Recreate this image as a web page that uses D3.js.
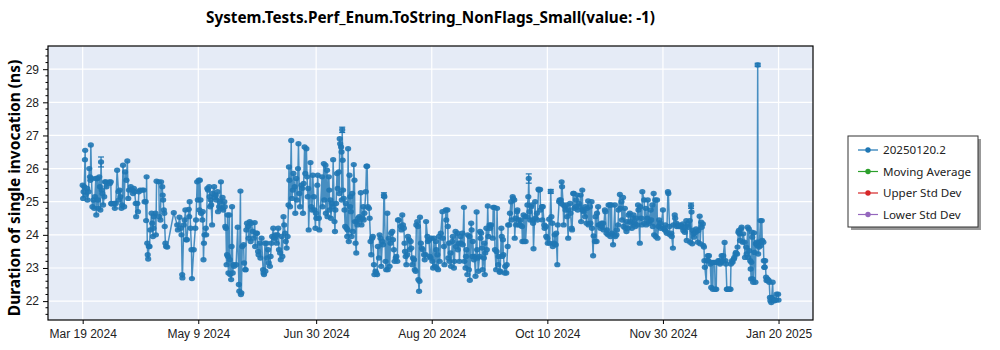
<!DOCTYPE html>
<html>
<head>
<meta charset="utf-8">
<script src="https://cdn.jsdelivr.net/npm/d3@7"></script>
<style>
  body { margin: 0; background: #fff; }
  svg { display: block; font-family: "Noto Sans", "Open Sans", sans-serif; }
</style>
</head>
<body>
<svg id="chart"></svg>
<script>
// benchmark runs: [days since 2024-03-19, duration ns]
const points = [
  [0.0,25.5],[0.2,25.1],[0.4,25.3],[0.7,25.45],[1.0,26.27],[1.1,26.55],[1.3,25.2],[2.0,25.4],[2.1,25.05],[2.6,25.3],
  [2.9,26.0],[3.2,25.75],[3.4,25.65],[3.6,26.71],[3.9,25.7],[4.3,24.85],[4.7,25.05],[5.1,24.8],[5.4,25.15],[5.8,25.7],
  [6.0,24.6],[6.5,25.7],[6.7,25.05],[6.9,24.8],[7.3,25.75],[7.6,25.45],[7.8,24.75],[8.1,26.2],[8.4,25.35],[8.7,25.25],
  [9.0,24.9],[9.5,25.15],[9.8,25.6],[10.2,25.6],[10.5,25.45],[11.7,25.6],[12.0,25.55],[12.4,25.6],[12.6,24.95],[12.8,24.93],
  [13.9,24.95],[14.2,24.8],[14.6,24.95],[15.2,25.95],[15.8,25.3],[16.0,25.05],[16.3,25.35],[16.6,25.15],[17.1,24.8],[17.4,24.9],
  [17.8,26.1],[18.3,24.85],[18.7,25.9],[19.3,25.65],[19.7,26.23],[20.1,25.1],[20.4,25.35],[21.2,25.45],[21.9,25.35],[22.2,25.25],
  [22.6,25.4],[22.9,25.3],[23.4,24.95],[23.6,24.55],[24.1,24.95],[24.4,24.7],[24.8,25.3],[25.3,25.35],[26.3,25.35],[27.0,25.35],
  [27.3,25.0],[27.8,25.0],[28.0,24.43],[28.2,25.75],[28.5,23.75],[28.7,23.4],[28.9,23.27],[29.2,23.65],[29.5,23.65],[29.8,24.15],
  [30.4,24.65],[30.7,24.35],[31.0,23.95],[31.2,24.2],[31.4,24.55],[32.1,24.65],[32.3,24.0],[32.6,25.62],[33.6,25.6],[33.8,24.55],
  [34.3,24.45],[34.6,25.6],[35.1,25.45],[35.3,25.2],[35.5,25.05],[35.8,24.75],[36.0,24.65],[36.2,24.25],[36.5,23.75],[36.8,23.65],
  [37.3,23.63],[40.2,24.67],[41.7,24.3],[42.0,24.15],[42.7,24.53],[43.3,24.2],[43.6,24.0],[43.9,22.8],[44.0,22.7],[44.6,24.3],
  [45.0,24.45],[45.3,24.75],[45.6,23.85],[46.0,23.85],[46.8,24.77],[47.0,24.55],[47.2,25.0],[47.6,24.2],[48.0,23.55],[48.2,22.68],
  [49.0,23.55],[49.7,24.2],[50.0,24.45],[50.5,25.6],[50.8,25.05],[51.2,25.65],[51.5,24.75],[51.7,25.65],[52.0,25.05],[52.2,24.65],
  [52.8,24.45],[53.0,24.7],[53.3,23.25],[53.5,23.75],[53.7,24.0],[54.3,24.2],[54.5,24.0],[55.0,25.4],[55.3,25.35],[55.8,25.45],
  [56.0,25.15],[56.2,24.85],[56.5,25.05],[56.7,24.9],[57.1,24.3],[57.3,25.25],[58.0,25.45],[58.2,25.13],[58.7,25.2],[59.0,25.05],
  [59.5,25.3],[59.7,24.7],[60.2,24.85],[60.5,25.0],[61.0,25.6],[61.2,24.8],[61.7,25.13],[62.0,24.75],[62.5,25.0],[62.7,24.85],
  [62.9,24.25],[63.2,24.2],[63.5,23.1],[63.7,23.4],[63.9,24.6],[64.1,23.35],[64.3,22.85],[64.7,24.6],[64.9,23.25],[65.1,22.8],
  [65.5,22.65],[65.7,23.65],[65.9,24.85],[66.2,22.85],[66.5,23.1],[66.8,23.05],[67.7,23.1],[68.4,24.23],[68.9,22.5],[69.1,22.3],
  [69.6,25.32],[69.8,22.2],[70.0,22.25],[70.4,23.65],[71.0,23.7],[71.2,23.15],[71.7,22.95],[71.9,22.95],[72.2,24.15],[72.5,24.35],
  [72.9,24.25],[73.2,23.9],[73.7,24.4],[74.1,23.8],[74.4,24.35],[75.1,24.1],[75.4,23.9],[75.9,24.37],[76.1,23.65],[76.6,24.05],
  [76.9,24.05],[77.4,23.5],[77.6,23.4],[78.1,23.75],[78.4,23.3],[78.9,23.9],[79.6,22.95],[79.8,22.85],[80.0,22.8],[80.4,23.75],
  [80.6,22.9],[81.1,23.75],[81.4,23.3],[81.8,23.55],[82.1,23.15],[82.6,23.05],[82.9,23.35],[83.3,23.75],[83.6,23.95],[84.1,24.2],
  [84.4,23.9],[84.8,23.9],[85.1,24.0],[85.6,23.75],[85.9,24.0],[86.3,24.2],[86.6,23.55],[87.1,23.45],[87.4,23.25],[87.8,23.95],
  [88.1,23.35],[88.6,24.55],[88.9,24.3],[89.3,24.05],[89.6,23.8],[90.0,23.6],[90.4,23.95],[90.8,24.9],[91.0,26.05],[91.2,25.65],
  [91.5,24.85],[92.0,26.85],[92.3,25.1],[92.7,25.35],[93.0,25.85],[93.5,25.45],[93.8,24.65],[94.2,25.7],[94.5,25.05],[95.0,26.0],
  [95.2,26.75],[95.6,25.25],[95.9,24.85],[96.5,25.5],[96.8,25.4],[97.2,24.65],[97.5,25.55],[97.9,26.65],[98.2,25.85],[98.7,26.6],
  [99.0,25.75],[99.3,25.15],[99.5,25.4],[99.7,24.15],[100.5,26.18],[100.8,24.85],[101.2,24.75],[101.5,25.8],[102.0,25.15],[102.3,24.75],
  [102.7,24.2],[102.9,24.65],[103.1,24.5],[103.5,25.5],[103.7,25.8],[104.2,24.5],[104.4,24.15],[105.6,25.75],[105.8,24.85],[106.4,26.15],
  [106.6,25.05],[107.1,26.1],[107.3,24.65],[107.8,25.95],[108.0,24.55],[108.6,25.75],[108.8,25.35],[109.0,24.75],[109.3,25.05],[109.5,24.5],
  [110.0,24.95],[110.2,24.85],[110.5,26.27],[111.1,24.4],[111.3,24.1],[111.5,24.75],[111.8,24.95],[112.2,25.85],[112.5,25.4],[113.0,25.9],
  [113.2,25.25],[113.4,26.9],[113.6,26.75],[114.0,26.65],[114.2,26.5],[114.3,25.05],[114.5,27.17],[114.7,26.25],[114.9,25.35],[115.2,25.1],
  [115.5,24.75],[115.8,24.25],[116.1,24.95],[116.4,24.2],[116.7,23.95],[116.9,24.15],[117.1,26.6],[117.4,23.8],[117.7,25.8],[118.0,24.85],
  [118.1,25.15],[118.3,24.7],[118.6,23.95],[118.9,25.25],[119.2,24.1],[119.6,26.12],[119.9,25.65],[120.1,24.4],[120.4,23.75],[120.7,23.45],
  [120.9,24.4],[121.2,24.3],[121.5,24.5],[122.0,24.55],[122.3,24.45],[122.7,25.27],[123.0,24.3],[123.5,24.5],[123.8,24.85],[124.0,24.45],
  [124.3,24.65],[124.9,25.3],[125.2,26.07],[125.5,26.07],[125.8,24.85],[126.3,24.8],[126.6,24.5],[127.0,23.8],[127.3,23.4],[127.7,23.9],
  [128.0,23.95],[128.5,23.1],[128.7,22.8],[129.2,22.9],[129.5,22.85],[129.9,22.8],[130.2,23.65],[130.7,23.3],[131.0,24.0],[131.4,23.9],
  [131.7,23.05],[132.2,23.8],[132.5,23.7],[132.9,25.2],[133.1,25.15],[133.6,23.2],[133.9,22.95],[134.4,24.65],[134.6,22.95],[135.1,23.9],
  [135.4,23.05],[135.8,23.75],[136.1,24.05],[136.6,24.1],[136.9,23.85],[137.3,23.55],[137.6,23.2],[138.1,23.3],[138.4,23.35],[138.8,23.2],
  [139.1,24.45],[139.5,24.45],[140.3,24.25],[140.6,24.15],[141.0,24.6],[141.3,24.3],[141.7,24.2],[142.0,23.75],[142.2,23.5],[142.5,23.35],
  [142.8,23.1],[143.2,23.4],[143.5,23.95],[144.0,23.85],[144.3,23.55],[144.7,23.8],[145.0,23.6],[145.4,23.1],[145.7,23.3],[146.2,23.25],
  [146.5,22.95],[146.9,22.9],[147.2,24.3],[147.6,24.4],[147.9,24.25],[148.1,22.65],[148.4,22.3],[148.6,22.6],[148.8,24.53],[149.2,23.75],
  [149.6,23.6],[150.0,23.55],[150.6,23.4],[150.9,23.25],[151.3,23.4],[151.5,24.4],[152.1,23.95],[152.3,23.8],[152.8,23.85],[153.1,23.35],
  [153.5,23.3],[153.8,23.9],[154.3,23.2],[154.6,23.0],[155.0,23.9],[155.3,23.05],[155.8,23.8],[156.0,23.55],[156.2,23.0],[156.5,23.4],
  [156.8,22.95],[157.2,23.95],[157.5,23.2],[158.0,24.05],[158.7,24.7],[158.9,23.9],[159.4,23.65],[159.6,23.1],[160.2,24.75],[160.4,24.45],
  [160.9,24.75],[161.1,24.25],[161.3,23.3],[161.6,23.75],[161.8,23.2],[162.3,23.45],[162.5,23.05],[163.1,23.8],[163.3,23.95],[163.8,23.0],
  [164.0,23.2],[164.5,24.1],[164.7,23.65],[165.3,24.05],[165.5,23.55],[166.0,23.75],[166.2,23.2],[166.7,23.95],[166.9,23.75],[167.5,24.05],
  [167.7,23.7],[168.2,24.83],[168.4,23.2],[168.9,23.0],[169.1,23.35],[169.3,23.55],[169.7,22.8],[169.9,24.0],[170.4,22.95],[170.6,23.95],
  [170.8,22.63],[171.4,24.35],[171.6,24.15],[171.9,23.35],[172.1,23.8],[172.6,23.25],[172.8,23.35],[173.3,22.75],[173.8,24.69],[174.0,23.55],
  [174.3,23.3],[174.5,22.9],[175.1,23.35],[175.3,24.1],[175.5,23.9],[175.8,24.05],[176.2,23.6],[176.4,22.95],[177.0,23.3],[177.2,23.75],
  [177.4,22.8],[177.6,23.45],[178.1,24.2],[178.3,23.55],[178.7,24.87],[179.0,23.95],[179.5,24.3],[179.7,24.2],[180.2,24.3],[180.9,23.9],
  [181.1,24.83],[181.6,24.83],[181.9,23.55],[182.4,22.95],[182.6,23.5],[182.8,24.8],[183.3,23.1],[183.5,23.35],[184.0,22.87],[184.2,22.9],
  [184.7,24.2],[184.9,23.95],[185.1,23.35],[185.4,23.85],[185.6,23.4],[186.2,22.85],[186.4,23.05],[186.9,22.85],[187.1,23.1],[187.5,23.65],
  [187.7,24.3],[188.2,24.3],[188.5,24.65],[189.0,25.0],[189.2,24.45],[189.7,25.15],[189.9,25.1],[190.4,25.05],[190.6,23.9],[191.0,24.5],
  [191.2,24.3],[191.6,24.7],[191.8,24.75],[192.3,24.45],[192.5,24.3],[193.0,24.3],[193.2,24.45],[193.8,24.25],[194.0,23.8],[194.5,24.6],
  [194.7,23.8],[195.2,24.55],[195.4,23.8],[196.0,24.55],[196.2,24.9],[196.6,25.15],[196.8,25.7],[197.1,24.7],[197.4,24.45],[197.9,24.85],
  [198.1,24.9],[198.5,24.45],[198.7,24.35],[198.9,23.58],[199.6,25.0],[199.8,24.5],[200.4,24.65],[200.6,24.45],[201.1,25.38],[201.3,25.35],
  [201.8,25.37],[202.0,24.75],[202.6,24.85],[202.8,24.45],[203.0,24.85],[203.6,24.3],[203.8,24.2],[204.3,24.25],[204.5,23.95],[205.0,23.9],
  [205.2,23.75],[205.8,24.47],[206.0,23.75],[206.5,25.31],[206.8,24.55],[207.2,24.35],[207.4,23.65],[208.0,23.75],[208.2,24.0],[208.7,23.7],
  [208.9,24.05],[209.4,23.1],[209.6,24.3],[210.2,25.0],[210.4,25.05],[210.9,25.05],[211.1,24.95],[211.3,25.6],[211.5,25.45],[212.0,24.9],
  [212.2,24.3],[212.8,24.85],[213.0,24.75],[213.5,24.9],[213.7,24.55],[214.2,23.9],[214.4,24.75],[215.0,24.95],[215.2,24.65],[215.7,24.2],
  [215.9,24.15],[216.4,25.25],[216.7,25.25],[216.9,24.8],[217.5,24.85],[217.7,25.05],[218.2,25.2],[218.4,24.75],[218.9,24.95],[219.1,24.85],
  [219.7,25.2],[219.9,24.4],[220.4,25.35],[220.6,24.75],[220.8,24.75],[221.0,24.7],[221.6,24.55],[221.8,24.85],[222.3,24.35],[222.5,24.8],
  [223.0,25.02],[223.2,24.3],[223.8,24.85],[224.0,24.35],[224.5,25.0],[224.7,24.2],[225.2,23.37],[225.4,23.97],[226.0,23.8],[226.2,24.55],
  [226.7,23.8],[226.9,24.65],[227.4,24.85],[227.6,24.3],[228.2,24.3],[228.4,24.2],[228.9,24.35],[229.1,24.25],[229.6,24.35],[229.8,24.15],
  [230.4,24.75],[230.6,24.7],[231.1,24.05],[231.3,24.15],[231.8,24.0],[232.0,24.9],[232.6,24.9],[232.8,23.95],[233.3,24.9],[233.5,24.05],
  [234.0,23.7],[234.2,24.0],[234.8,24.9],[235.0,23.95],[235.5,24.0],[235.7,24.15],[236.2,24.3],[236.4,24.75],[237.0,25.22],[237.2,24.8],
  [237.7,25.0],[237.9,24.45],[238.4,25.13],[238.6,24.25],[239.2,24.8],[239.4,24.2],[239.9,24.1],[240.1,24.4],[240.6,24.2],[240.8,24.6],
  [241.4,24.65],[241.6,24.4],[242.1,24.35],[242.3,24.2],[242.8,24.5],[243.0,24.6],[243.6,24.35],[243.8,24.25],[244.3,24.5],[244.5,24.3],
  [245.0,24.9],[245.2,24.75],[245.8,23.75],[246.0,24.85],[246.5,24.5],[246.7,24.3],[246.9,25.3],[247.7,25.05],[247.9,24.35],[248.4,24.8],
  [248.6,24.3],[249.1,24.5],[249.3,25.05],[249.9,24.35],[250.1,24.4],[250.6,24.75],[250.8,24.45],[251.3,24.9],[251.5,24.25],[251.9,25.25],
  [252.1,24.0],[252.6,25.05],[252.8,23.95],[253.4,25.05],[253.6,23.9],[254.1,24.25],[254.3,24.45],[254.8,24.35],[255.0,24.2],[256.0,24.75],
  [256.2,24.2],[256.8,24.15],[257.0,24.3],[257.5,24.1],[257.7,24.05],[258.2,25.3],[258.4,25.25],[258.9,24.25],[259.1,24.0],[259.7,24.05],
  [259.9,23.95],[260.4,23.6],[260.6,24.3],[261.2,24.6],[261.4,24.5],[261.9,24.35],[262.1,24.25],[262.9,24.25],[263.1,24.3],[264.1,24.28],
  [264.3,24.23],[264.8,24.33],[265.0,24.13],[265.6,24.08],[265.8,24.23],[266.3,24.43],[266.5,23.83],[267.0,24.33],[267.2,24.23],[267.8,24.43],
  [268.0,23.78],[268.4,24.88],[268.6,24.69],[268.9,23.73],[269.1,24.13],[269.5,24.03],[269.7,23.93],[270.4,24.08],[270.6,24.18],[271.4,23.78],
  [271.6,24.13],[272.2,24.56],[272.4,23.73],[272.9,24.38],[273.1,24.23],[273.6,24.33],[273.8,23.68],[274.1,23.63],[274.3,23.22],[274.5,23.02],
  [275.1,22.57],[275.3,23.22],[275.8,23.37],[276.0,23.22],[276.3,23.37],[276.9,23.12],[277.3,22.41],[277.5,23.17],[278.0,22.36],[278.2,23.17],
  [278.8,23.17],[279.0,22.36],[279.5,22.36],[279.7,23.17],[280.2,23.17],[280.4,23.22],[281.0,23.22],[281.2,23.12],[281.7,23.17],[281.9,23.37],
  [282.4,23.22],[282.6,23.37],[283.2,23.77],[283.6,23.22],[283.8,23.12],[284.2,22.36],[284.4,22.36],[285.1,22.36],[285.3,22.36],[285.8,22.36],
  [286.0,23.12],[286.5,23.22],[286.7,23.17],[287.3,23.27],[287.5,23.32],[288.0,23.42],[288.2,23.47],[288.7,23.42],[288.9,23.63],[289.3,24.08],
  [289.5,24.13],[289.8,24.03],[290.0,23.83],[290.5,24.18],[290.7,24.23],[291.2,23.78],[291.4,24.03],[292.0,23.78],[292.2,23.32],[292.7,23.63],
  [292.9,23.42],[293.4,24.23],[293.6,23.32],[293.9,24.18],[294.1,23.52],[294.5,23.22],[294.7,22.97],[294.9,22.67],[295.0,23.17],[295.2,24.08],
  [295.4,23.93],[295.6,22.67],[295.8,22.57],[296.2,24.06],[296.4,23.47],[296.8,22.57],[297.0,23.73],[297.4,23.78],[297.6,23.68],[297.8,29.13],
  [298.0,23.42],[298.4,23.63],[298.6,23.78],[299.0,24.43],[299.2,23.68],[299.6,24.43],[299.8,23.83],[300.3,23.78],[300.5,23.22],[300.7,23.02],
  [300.9,23.02],[301.1,23.22],[301.5,22.72],[301.7,22.62],[302.1,22.67],[302.3,22.62],[302.7,22.62],[302.9,22.57],[303.2,22.11],[303.4,22.01],
  [303.8,21.96],[304.0,22.11],[304.4,22.57],[304.6,22.06],[305.2,22.01],[305.4,22.03],[305.9,22.03],[306.1,22.21],[306.8,22.21],[307.0,22.03]
];

// error bars visible above the markers: [day, half-width ns]
const errorBars = [[8.1,0.15],[114.5,0.08],[132.9,0.07],[196.8,0.14],[206.5,0.06],[268.4,0.08],[297.8,0.05]];

const startDay = "2024-03-19";
const xTicks = ["2024-03-19","2024-05-09","2024-06-30","2024-08-20","2024-10-10","2024-11-30","2025-01-20"];
const yTicks = [22, 23, 24, 25, 26, 27, 28, 29];

const legendLabels = ["20250120.2", "Moving Average", "Upper Std Dev", "Lower Std Dev"];
const legendColors = ["#1f77b4", "#2ca02c", "#d62728", "#9467bd"];

const title = "System.Tests.Perf_Enum.ToString_NonFlags_Small(value: -1)";
const yTitle = "Duration of single invocation (ns)";

const width = 1000, height = 350;
const margin = { top: 46, right: 187, bottom: 30, left: 48 };
const plotW = width - margin.left - margin.right;
const plotH = height - margin.top - margin.bottom;

const t0 = new Date(startDay + "T00:00:00Z");
const toDate = d => new Date(t0.getTime() + d * 864e5);
const parse = d3.utcParse("%Y-%m-%d");

const svg = d3.select("#chart").attr("width", width).attr("height", height);

const x = d3.scaleUtc()
  .domain([toDate(-15.3), toDate(322.2)])
  .range([0, plotW]);

const y = d3.scaleLinear()
  .domain([21.43, 29.7])
  .range([plotH, 0]);

const g = svg.append("g").attr("transform", `translate(${margin.left},${margin.top})`);

// plot background
g.append("rect").attr("width", plotW).attr("height", plotH).attr("fill", "#e5ebf6");

// grid
g.append("g").selectAll("line").data(yTicks).enter().append("line")
  .attr("x1", 0).attr("x2", plotW)
  .attr("y1", d => y(d)).attr("y2", d => y(d))
  .attr("stroke", "#fff").attr("stroke-width", 1.2);
g.append("g").selectAll("line").data(xTicks).enter().append("line")
  .attr("x1", d => x(parse(d))).attr("x2", d => x(parse(d)))
  .attr("y1", 0).attr("y2", plotH)
  .attr("stroke", "#fff").attr("stroke-width", 1.2);

// clip
g.append("clipPath").attr("id", "clip").append("rect").attr("width", plotW).attr("height", plotH);
const plot = g.append("g").attr("clip-path", "url(#clip)");

const line = d3.line()
  .x(d => x(toDate(d[0])))
  .y(d => y(d[1]));

plot.append("path")
  .datum(points)
  .attr("fill", "none")
  .attr("stroke", "#1f77b4")
  .attr("stroke-opacity", 0.8)
  .attr("stroke-width", 1.5)
  .attr("d", line);

// error bars
const lookup = new Map(points.map(p => [p[0], p[1]]));
const eb = plot.append("g").attr("stroke", "#1f77b4").attr("stroke-width", 1.2);
errorBars.forEach(([day, err]) => {
  const v = lookup.get(day);
  const cx = x(toDate(day));
  eb.append("line").attr("x1", cx).attr("x2", cx).attr("y1", y(v - err)).attr("y2", y(v + err));
  [v - err, v + err].forEach(b => {
    eb.append("line").attr("x1", cx - 3).attr("x2", cx + 3).attr("y1", y(b)).attr("y2", y(b));
  });
});

plot.append("g").selectAll("ellipse")
  .data(points)
  .enter().append("ellipse")
  .attr("cx", d => x(toDate(d[0])))
  .attr("cy", d => y(d[1]))
  .attr("rx", 3.1)
  .attr("ry", 2.7)
  .attr("fill", "#1f77b4")
  .attr("fill-opacity", 0.9);

// X axis
const xAxis = g.append("g")
  .attr("transform", `translate(0,${plotH})`)
  .call(d3.axisBottom(x)
    .tickValues(xTicks.map(parse))
    .tickFormat(d3.utcFormat("%b %-d %Y"))
    .tickSize(4)
    .tickSizeOuter(0));
xAxis.selectAll("text").attr("font-size", 12).attr("fill", "#222").attr("dy", "0.9em");

// Y axis with minor ticks
const minorTicks = d3.range(21.6, 29.7, 0.2).filter(v => Math.abs(v - Math.round(v)) > 0.05);
g.append("g").selectAll("line").data(minorTicks).enter().append("line")
  .attr("x1", -2.5).attr("x2", 0)
  .attr("y1", d => y(d)).attr("y2", d => y(d))
  .attr("stroke", "#000");
const yAxis = g.append("g")
  .call(d3.axisLeft(y).tickValues(yTicks).tickFormat(d3.format("d")).tickSize(5).tickSizeOuter(0));
yAxis.selectAll("text").attr("font-size", 12).attr("fill", "#222").attr("x", -9);

[xAxis, yAxis].forEach(a => a.select(".domain").remove());

// frame
g.append("rect").attr("width", plotW).attr("height", plotH)
  .attr("fill", "none").attr("stroke", "#000").attr("stroke-width", 1.2);

// titles
svg.append("text")
  .attr("x", margin.left + plotW / 2).attr("y", 23)
  .attr("text-anchor", "middle")
  .attr("font-size", 15.3).attr("font-weight", "bold")
  .text(title);

svg.append("text")
  .attr("transform", `translate(20,${margin.top + plotH / 2 + 5}) rotate(-90)`)
  .attr("text-anchor", "middle")
  .attr("font-size", 15.5).attr("font-weight", "bold")
  .text(yTitle);

// legend
const lg = svg.append("g").attr("transform", "translate(848,136)");
lg.append("rect").attr("x", 3).attr("y", 3).attr("width", 130).attr("height", 91).attr("fill", "#999");
lg.append("rect").attr("width", 130).attr("height", 91).attr("fill", "#fff").attr("stroke", "#333");
const items = lg.selectAll(".item").data(legendLabels).enter().append("g")
  .attr("transform", (d, i) => `translate(0,${14 + i * 21.5})`);
items.append("line").attr("x1", 10).attr("x2", 30)
  .attr("stroke", (d, i) => legendColors[i]).attr("stroke-width", 1.2);
items.append("circle").attr("cx", 20).attr("r", 2.7).attr("fill", (d, i) => legendColors[i]);
items.append("text").attr("x", 35).attr("dy", "0.35em")
  .attr("font-size", 11.6).attr("fill", "#222").text(d => d);
</script>
</body>
</html>
